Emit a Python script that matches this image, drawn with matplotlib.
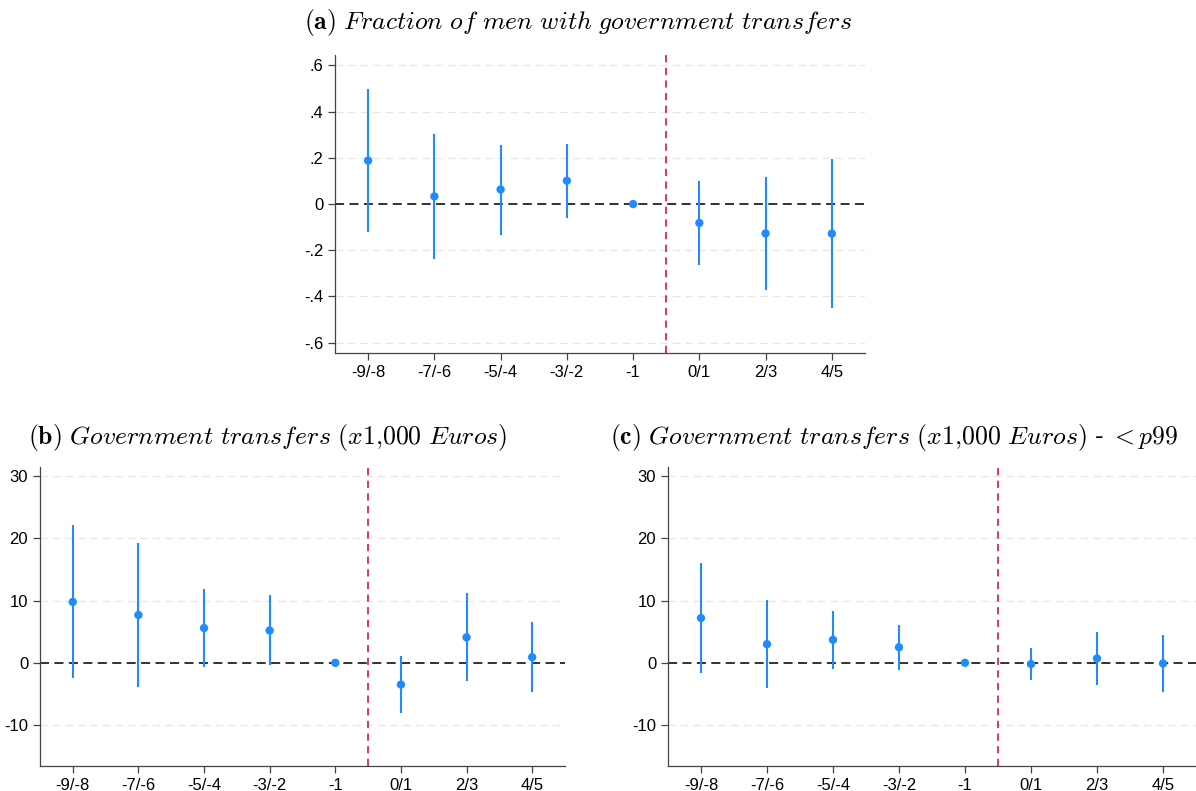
import numpy as np
import matplotlib.pyplot as plt

plt.rcParams['font.family'] = ['Liberation Sans', 'DejaVu Sans']
plt.rcParams['mathtext.fontset'] = 'cm'

# event-time bins
periods = ["-9/-8", "-7/-6", "-5/-4", "-3/-2", "-1", "0/1", "2/3", "4/5"]

# (a) fraction of men with government transfers
coef_a = [0.188, 0.033, 0.063, 0.101, 0.0, -0.082, -0.127, -0.128]
lo_a = [-0.121, -0.237, -0.132, -0.060, 0.0, -0.263, -0.370, -0.449]
hi_a = [0.498, 0.304, 0.256, 0.260, 0.0, 0.098, 0.117, 0.193]

# (b) government transfers (x1,000 euros)
coef_b = [9.8, 7.7, 5.6, 5.2, 0.0, -3.5, 4.1, 0.9]
lo_b = [-2.4, -3.9, -0.65, -0.4, 0.0, -8.1, -2.9, -4.7]
hi_b = [22.2, 19.2, 11.9, 10.9, 0.0, 1.1, 11.2, 6.5]

# (c) government transfers, < p99
coef_c = [7.2, 3.0, 3.7, 2.5, 0.0, -0.2, 0.7, -0.1]
lo_c = [-1.6, -4.1, -1.0, -1.1, 0.0, -2.8, -3.5, -4.7]
hi_c = [16.1, 10.1, 8.4, 6.1, 0.0, 2.4, 4.9, 4.5]

yt_a = [0.6, 0.4, 0.2, 0, -0.2, -0.4, -0.6]
yl_a = [".6", ".4", ".2", "0", "-.2", "-.4", "-.6"]
yt_b = [30, 20, 10, 0, -10]
yl_b = ["30", "20", "10", "0", "-10"]

blue = "#1f8bff"
red = "#d42a52"

fig = plt.figure(figsize=(11.96, 7.91), dpi=100)


def panel(rect, coef, lo, hi, yticks, ylabels, ylim):
    ax = fig.add_axes(rect)
    x = np.arange(1, len(periods) + 1)
    coef = np.array(coef)
    ax.vlines(x, lo, hi, color=blue, lw=1.5, zorder=3)
    ax.scatter(x, coef, s=36, color=blue, zorder=4, edgecolors="none")
    ax.axhline(0, color="#222222", lw=1.3, ls=(0, (5, 3)), zorder=2)
    ax.axvline(5.5, color=red, lw=1.3, ls=(0, (4, 3)), zorder=2)
    for y in yticks:
        if y != 0:
            ax.axhline(y, color="#e6e6e6", lw=0.9, ls=(0, (6, 4)), zorder=1)
    ax.set_xlim(0.5, 8.5)
    ax.set_ylim(*ylim)
    ax.set_xticks(x)
    ax.set_xticklabels(periods)
    ax.set_yticks(yticks)
    ax.set_yticklabels(ylabels)
    ax.tick_params(labelsize=12, length=5, color="#444444", width=0.9)
    for s in ["top", "right"]:
        ax.spines[s].set_visible(False)
    for s in ["left", "bottom"]:
        ax.spines[s].set_color("#444444")
        ax.spines[s].set_linewidth(0.9)
    return ax


panel([0.2801, 0.5537, 0.4431, 0.3767], coef_a, lo_a, hi_a, yt_a, yl_a, (-0.645, 0.645))
panel([0.0334, 0.0316, 0.4390, 0.3780], coef_b, lo_b, hi_b, yt_b, yl_b, (-16.6, 31.5))
panel([0.5585, 0.0316, 0.4415, 0.3780], coef_c, lo_c, hi_c, yt_b, yl_b, (-16.6, 31.5))

fig.text(0.483, 0.972, r"$\mathbf{(a)}$ $\mathit{Fraction\ of\ men\ with\ government\ transfers}$",
         ha="center", va="center", fontsize=18.5)
fig.text(0.224, 0.447, r"$\mathbf{(b)}$ $\mathit{Government\ transfers\ (x1{,}000\ Euros)}$",
         ha="center", va="center", fontsize=18.5)
fig.text(0.7475, 0.447, r"$\mathbf{(c)}$ $\mathit{Government\ transfers\ (x1{,}000\ Euros)}$ - $\mathit{<p99}$",
         ha="center", va="center", fontsize=18.5)

fig.savefig("out.png", dpi=100)
